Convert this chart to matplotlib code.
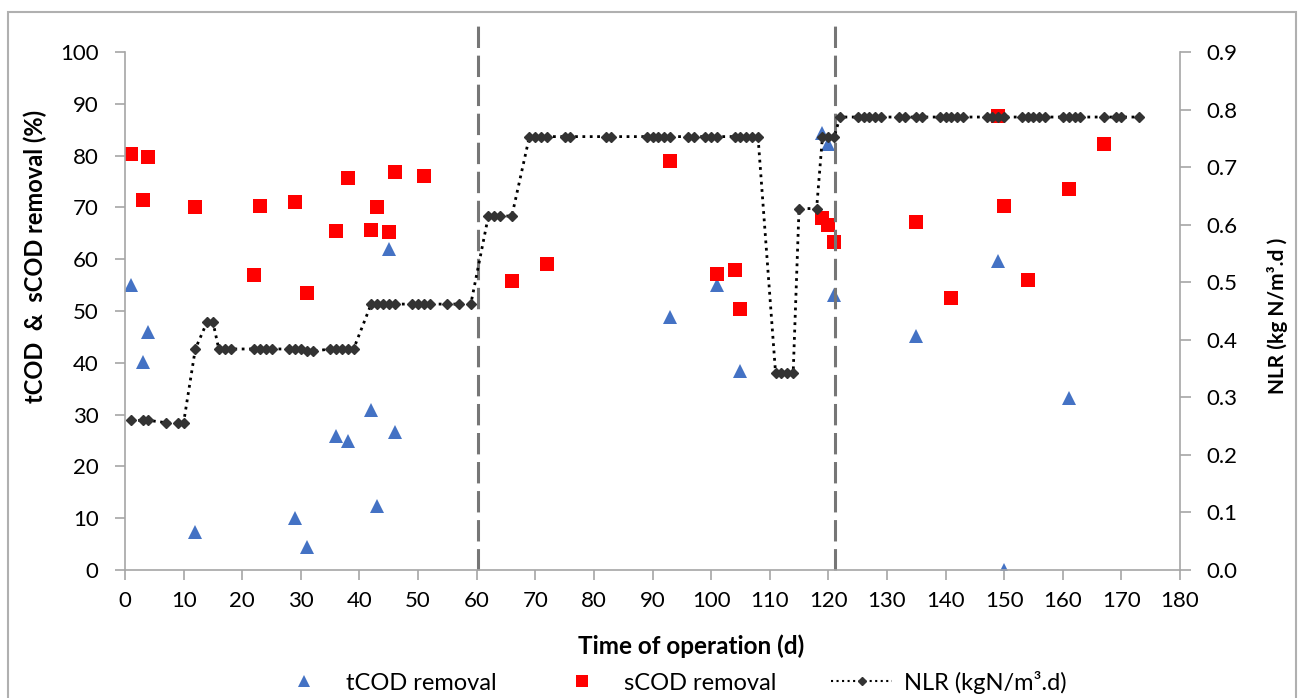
import numpy as np
import matplotlib.pyplot as plt
from matplotlib.lines import Line2D
from matplotlib.patches import Rectangle

plt.rcParams['font.family'] = ['Lato', 'DejaVu Sans']

# tCOD removal (%)
tcod_day = [1, 3, 4, 12, 29, 31, 36, 38, 42, 43, 45, 46, 93, 101, 105, 119, 120, 121, 135, 149, 150, 161]
tcod_rem = [55, 40.2, 46, 7.3, 10, 4.5, 25.8, 25, 30.8, 12.3, 62, 26.6, 48.8, 55, 38.5, 84.3, 82.3, 53, 45.2, 59.7, 0, 33.2]

# sCOD removal (%)
scod_day = [1, 3, 4, 12, 22, 23, 29, 31, 36, 38, 42, 43, 45, 46, 51, 66, 72, 93, 101, 104, 105,
            119, 120, 121, 135, 141, 149, 150, 154, 161, 167]
scod_rem = [80.4, 71.5, 79.8, 70, 57, 70.2, 71, 53.4, 65.5, 75.7, 65.7, 70, 65.3, 76.8, 76, 55.8, 59, 79, 57.2, 58, 50.3,
            68, 66.6, 63.4, 67.2, 52.5, 87.6, 70.3, 56, 73.5, 82.3]

# nitrogen loading rate (kgN/m3.d)
nlr_day = [1, 3, 4, 7, 9, 10, 12, 14, 15, 16, 17, 18, 22, 23, 24, 25, 28, 29, 30, 31, 32,
           35, 36, 37, 38, 39, 42, 43, 44, 45, 46, 49, 50, 51, 52, 55, 57, 59,
           62, 63, 64, 66, 69, 70, 71, 72, 75, 76, 82, 83, 89, 90, 91, 92, 93, 96, 97,
           99, 100, 101, 104, 105, 106, 107, 108, 111, 112, 113, 114, 115, 118, 119, 120, 121,
           122, 125, 126, 127, 128, 129, 132, 133, 135, 136, 139, 140, 141, 142, 143,
           147, 148, 149, 150, 153, 154, 155, 156, 157, 160, 161, 162, 163, 167, 169, 170, 173]
nlr_val = [0.26, 0.26, 0.26, 0.256, 0.256, 0.256, 0.384, 0.431, 0.431, 0.384, 0.384, 0.384,
           0.384, 0.384, 0.384, 0.384, 0.384, 0.384, 0.384, 0.38, 0.38,
           0.384, 0.384, 0.384, 0.384, 0.384, 0.462, 0.462, 0.462, 0.462, 0.462,
           0.462, 0.462, 0.462, 0.462, 0.462, 0.462, 0.462,
           0.615, 0.615, 0.615, 0.615, 0.753, 0.753, 0.753, 0.753, 0.753, 0.753, 0.753, 0.753,
           0.753, 0.753, 0.753, 0.753, 0.753, 0.753, 0.753,
           0.753, 0.753, 0.753, 0.753, 0.753, 0.753, 0.753, 0.753,
           0.342, 0.342, 0.342, 0.342, 0.628, 0.628, 0.753, 0.753, 0.753,
           0.787, 0.787, 0.787, 0.787, 0.787, 0.787, 0.787, 0.787, 0.787, 0.787,
           0.787, 0.787, 0.787, 0.787, 0.787,
           0.787, 0.787, 0.787, 0.787, 0.787, 0.787, 0.787, 0.787, 0.787,
           0.787, 0.787, 0.787, 0.787, 0.787, 0.787, 0.787, 0.787]

# start of each operating phase (d)
phase_bounds = [60.3, 121.2]

W, H = 1298, 698
fig = plt.figure(figsize=(W / 100, H / 100), dpi=100)
ax = fig.add_axes([125 / W, 1 - 570 / H, 1055 / W, 518 / H])
ax2 = ax.twinx()

grey = '#a6a6a6'

ax.plot(tcod_day, tcod_rem, ls='none', marker='^', ms=10, color='#4472C4', mew=0, label='tCOD removal')
ax.plot(scod_day, scod_rem, ls='none', marker='s', ms=10, color='#FF0000', mew=0, label='sCOD removal')
ax2.plot(nlr_day, nlr_val, ls=':', lw=2, color='black', marker='D', ms=5.5,
         mfc='#333333', mec='#333333', label='NLR (kgN/m³.d)')

for xb in phase_bounds:
    ax.plot([xb, xb], [0, 106], color='#767676', lw=2.2, dashes=(7, 2.5), clip_on=False)

ax.set_xlim(0, 180)
ax.set_ylim(0, 100)
ax2.set_ylim(0, 0.9)
ax.set_xticks(np.arange(0, 181, 10))
ax.set_yticks(np.arange(0, 101, 10))
ax2.set_yticks(np.arange(0, 0.91, 0.1))
ax2.set_yticklabels(['%.1f' % v for v in np.arange(0, 0.91, 0.1)])

for a in (ax, ax2):
    a.spines['top'].set_visible(False)
    for s in ('left', 'right', 'bottom'):
        a.spines[s].set_color(grey)
        a.spines[s].set_linewidth(1.2)
    a.tick_params(colors=grey, labelcolor='black', labelsize=16, width=1.2, length=7)
ax.tick_params(axis='y', pad=12)
ax.tick_params(axis='x', pad=8)
ax2.tick_params(axis='y', length=8, pad=11)
ax.spines['right'].set_visible(False)
ax2.spines['left'].set_visible(False)
ax2.spines['bottom'].set_visible(False)

ax.set_xlabel('Time of operation (d)', fontsize=17.5, fontweight='bold')
ax.xaxis.set_label_coords(0.5365, -0.125)
ax.set_ylabel('tCOD  &  sCOD removal (%)', fontsize=17, fontweight='bold')
ax.yaxis.set_label_coords(-0.074, 0.605)
ax2.set_ylabel('NLR (kg N/m³.d )', fontsize=15, fontweight='bold')
ax2.yaxis.set_label_coords(1.082, 0.49)

handles = [
    Line2D([], [], ls='none', marker='^', ms=8, color='#4472C4', mew=0),
    Line2D([], [], ls='none', marker='s', ms=8, color='#FF0000', mew=0),
    Line2D([], [], ls=':', lw=1.5, color='black', marker='D', ms=4.5, mfc='#333333', mec='#333333'),
]
labels = ['tCOD removal', 'sCOD removal', 'NLR (kgN/m³.d)']
fig.legend(handles, labels, loc='center', bbox_to_anchor=(670 / W, 1 - 682 / H), ncol=3,
           frameon=False, fontsize=17, handlelength=2.6, handletextpad=0.5, columnspacing=2.3)

# chart frame
fig.patches.append(Rectangle((8 / W, -0.05), (1296 - 8) / W, 1.05 - 12 / H,
                             transform=fig.transFigure, fill=False, edgecolor='#b0b0b0', lw=1.5))

fig.savefig('out.png', dpi=100)
